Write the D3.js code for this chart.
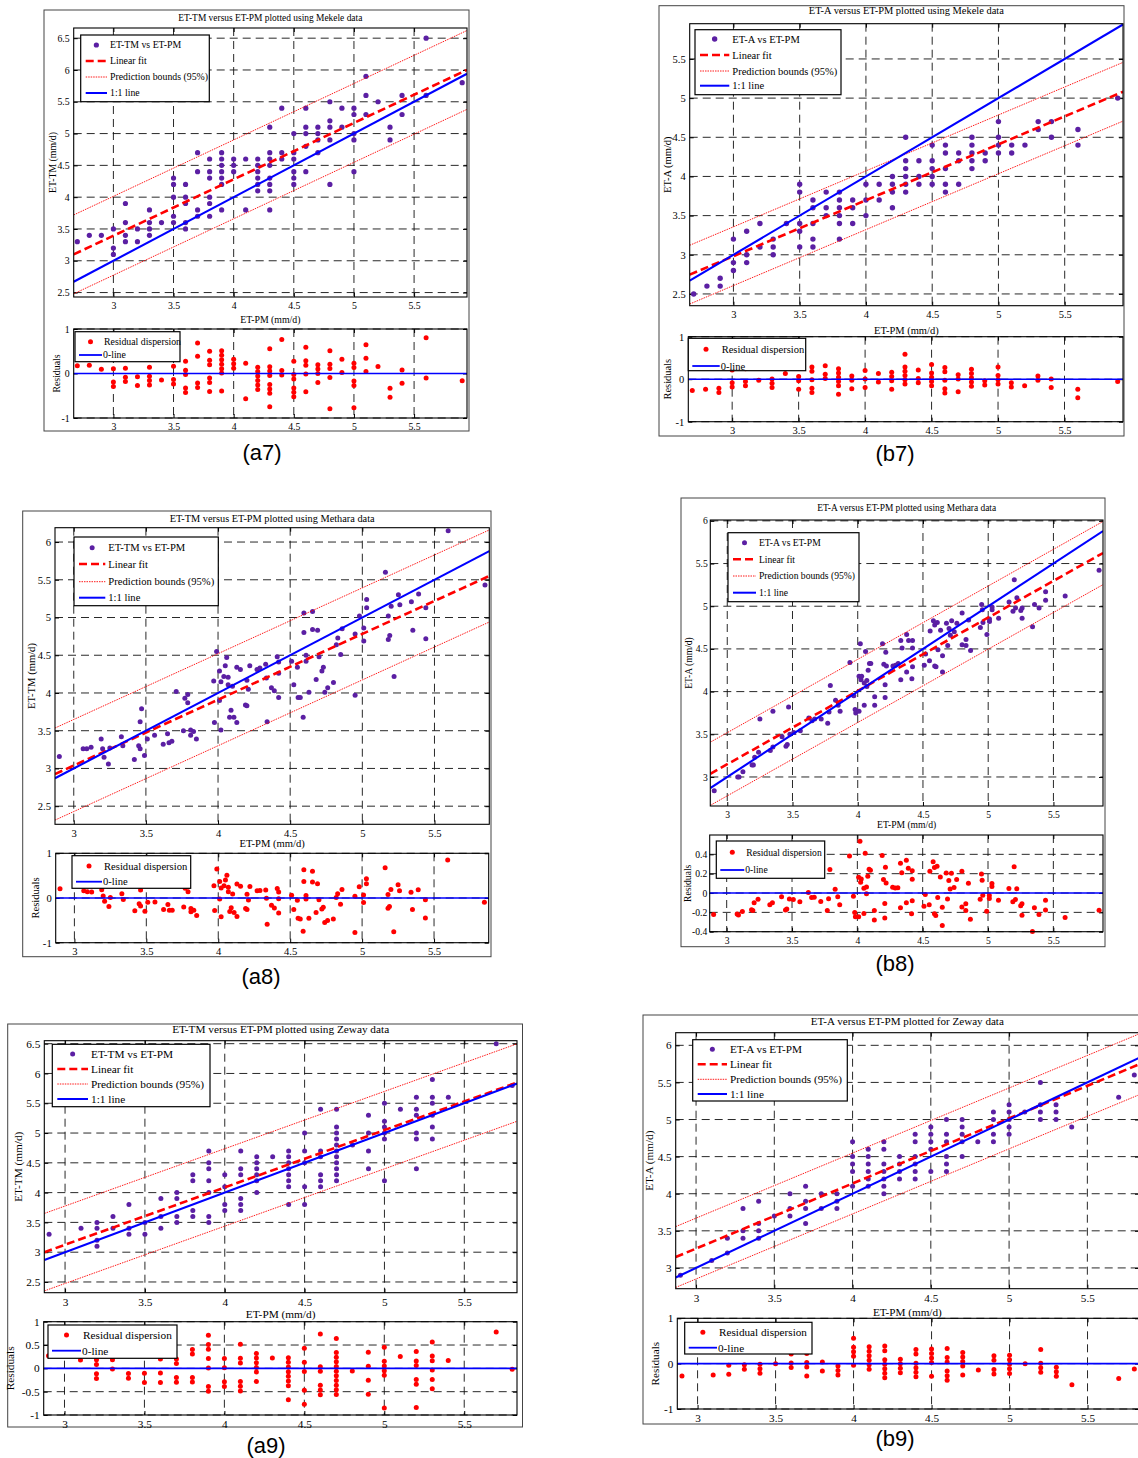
<!DOCTYPE html>
<html>
<head>
<meta charset="utf-8">
<script src="https://cdn.jsdelivr.net/npm/d3@7"></script>
<style>
body { margin: 0; background: #fff; }
svg text { font-family: "Liberation Serif", "Times New Roman", serif; fill: #000; }
svg text.plabel { font-family: "Liberation Sans", Arial, sans-serif; }
</style>
</head>
<body>
<svg id="fig" width="1138" height="1458"></svg>
<script>
var xTicks = [3, 3.5, 4, 4.5, 5, 5.5];

// Mekele, ET-TM (a7): ET-PM steps and the ET-TM readings found at each step
var a7PM = [2.7, 2.8, 2.9, 3.0, 3.1, 3.2, 3.3, 3.4, 3.5, 3.6, 3.7, 3.8, 3.9, 4.0, 4.1, 4.2, 4.3, 4.4, 4.5, 4.6, 4.7, 4.8, 4.9, 5.0, 5.1, 5.2, 5.3, 5.4, 5.6, 5.9];
var a7TM = [[3.3], [3.4], [3.4], [3.5, 3.2, 3.1], [3.9, 3.6, 3.4, 3.3], [3.5, 3.3], [3.8, 3.6, 3.5, 3.4], [3.6],
  [4.3, 4.2, 4.0, 3.7, 3.6], [4.2, 4.0, 3.9, 3.6, 3.5], [4.7, 4.4, 3.8, 3.7], [4.6, 4.4, 4.3, 4.0, 3.9, 3.7],
  [4.7, 4.6, 4.5, 4.4, 4.3, 4.2, 3.8], [4.6, 4.5, 4.4], [4.6, 3.8], [4.6, 4.5, 4.4, 4.3, 4.2, 4.1],
  [5.1, 4.7, 4.6, 4.5, 4.3, 4.2, 4.1, 3.8], [5.4, 4.7, 4.6], [5.0, 4.7, 4.6, 4.4, 4.3, 4.2], [5.4, 5.1, 5.0, 4.8, 4.4],
  [5.1, 5.0, 4.9, 4.7], [5.5, 5.2, 5.1, 4.9, 4.2], [5.4, 5.1], [5.4, 5.3, 5.0, 4.9, 4.4], [5.9, 5.6, 5.3], [5.5],
  [5.1, 4.9], [5.6, 5.3], [6.5, 5.6], [5.8]];
var a7Fit = [0.887, 0.732];   // slope, intercept
var a7Bound = 0.62;           // half width of the 95% prediction band

// Mekele, ET-A (b7)
var b7PM = [2.7, 2.8, 2.9, 3.0, 3.1, 3.2, 3.3, 3.4, 3.5, 3.6, 3.7, 3.8, 3.9, 4.0, 4.1, 4.2, 4.3, 4.4, 4.5, 4.6, 4.7, 4.8, 4.9, 5.0, 5.1, 5.2, 5.3, 5.4, 5.6, 5.9];
var b7A = [[2.5], [2.6], [2.7, 2.6], [3.2, 2.9, 2.8], [3.3, 3.0, 2.9], [3.4, 3.1], [3.2, 3.1, 3.0], [3.4],
  [3.9, 3.8, 3.4, 3.3, 3.1], [3.7, 3.6, 3.4, 3.2, 3.1], [3.8, 3.6, 3.5], [3.8, 3.7, 3.6, 3.5, 3.4, 3.2],
  [3.7, 3.6, 3.4], [3.9, 3.7, 3.5], [3.9, 3.7], [4.0, 3.9, 3.8, 3.6], [4.5, 4.2, 4.1, 4.0, 3.9, 3.8],
  [4.2, 4.0, 3.9], [4.4, 4.2, 4.1, 4.0, 3.9], [4.4, 4.3, 4.1, 3.9, 3.8], [4.3, 4.2, 3.9], [4.5, 4.4, 4.3, 4.2, 4.1],
  [4.3, 4.2], [4.7, 4.5, 4.4, 4.3], [4.4, 4.3], [4.4], [4.7, 4.6], [4.7, 4.5], [4.6, 4.4], [5.0]];
var b7Fit = [0.714, 0.840];
var b7Bound = 0.375;

// Methara, ET-TM (a8): [ET-PM, ET-TM]
var a8Pts = [[2.90, 3.16], [3.065, 3.26], [3.09, 3.26], [3.12, 3.28], [3.19, 3.39], [3.20, 3.26], [3.21, 3.15],
  [3.24, 3.06], [3.25, 3.27], [3.33, 3.42], [3.34, 3.30], [3.42, 3.12], [3.45, 3.30], [3.46, 3.26], [3.46, 3.62],
  [3.47, 3.79], [3.49, 3.17], [3.51, 3.39], [3.56, 3.44], [3.62, 3.32], [3.65, 3.46], [3.66, 3.34], [3.68, 3.36],
  [3.71, 4.02], [3.76, 3.50], [3.77, 3.93], [3.79, 3.98], [3.79, 3.87], [3.81, 3.51], [3.81, 3.44], [3.83, 3.49],
  [3.85, 3.39], [3.97, 4.16], [3.975, 3.61], [3.99, 4.55], [4.01, 3.90], [4.01, 4.29], [4.02, 3.51], [4.02, 4.15],
  [4.04, 4.22], [4.05, 4.36], [4.06, 4.47], [4.07, 4.21], [4.07, 4.11], [4.08, 3.68], [4.09, 3.77], [4.10, 4.09],
  [4.11, 3.68], [4.13, 3.61], [4.13, 4.34], [4.155, 4.31], [4.19, 3.84], [4.20, 3.83], [4.20, 4.17], [4.21, 4.05],
  [4.22, 4.36], [4.27, 4.31], [4.29, 4.33], [4.33, 4.38], [4.335, 4.20], [4.34, 3.62], [4.37, 4.07], [4.39, 4.03],
  [4.41, 4.48], [4.42, 3.94], [4.42, 4.41], [4.42, 4.26], [4.51, 4.42], [4.525, 4.11], [4.55, 4.34], [4.555, 3.94],
  [4.57, 3.94], [4.59, 3.68], [4.595, 5.06], [4.595, 4.80], [4.61, 4.50], [4.61, 4.42], [4.63, 4.01], [4.655, 5.08],
  [4.655, 4.84], [4.68, 4.18], [4.69, 4.83], [4.70, 4.48], [4.72, 4.29], [4.73, 4.34], [4.74, 4.01], [4.76, 4.07],
  [4.80, 4.14], [4.82, 4.64], [4.83, 4.73], [4.85, 4.51], [4.86, 4.85], [4.95, 3.97], [4.95, 4.78], [4.98, 5.02],
  [5.01, 4.69], [5.01, 4.86], [5.03, 5.24], [5.03, 5.13], [5.16, 5.60], [5.18, 5.02], [5.18, 4.71], [5.19, 4.76],
  [5.20, 5.15], [5.22, 4.22], [5.25, 5.30], [5.26, 5.17], [5.34, 5.21], [5.35, 4.83], [5.39, 5.31], [5.44, 5.13],
  [5.44, 4.72], [5.595, 6.15], [5.85, 5.43]];
var a8Fit = [0.872, 0.423];
var a8Bound = 0.61;

// Methara, ET-A (b8): [ET-PM, ET-A]
var b8Pts = [[2.90, 2.84], [3.08, 3.00], [3.09, 3.00], [3.12, 3.06], [3.19, 3.14], [3.20, 3.14], [3.21, 3.23],
  [3.24, 3.29], [3.25, 3.68], [3.33, 3.31], [3.35, 3.35], [3.35, 3.77], [3.42, 3.47], [3.45, 3.36], [3.46, 3.38],
  [3.47, 3.82], [3.48, 3.50], [3.51, 3.52], [3.56, 3.54], [3.625, 3.69], [3.65, 3.66], [3.67, 3.68], [3.72, 3.68],
  [3.77, 3.63], [3.78, 3.76], [3.79, 4.07], [3.83, 3.90], [3.85, 3.84], [3.865, 3.77], [3.94, 4.34], [3.97, 3.95],
  [3.98, 3.79], [3.985, 3.75], [4.01, 4.18], [4.01, 3.77], [4.02, 4.56], [4.025, 4.14], [4.03, 4.18], [4.05, 4.10],
  [4.06, 4.47], [4.07, 4.06], [4.07, 4.13], [4.08, 4.25], [4.09, 4.33], [4.10, 4.33], [4.05, 3.84], [4.13, 3.94],
  [4.13, 3.84], [4.19, 4.56], [4.20, 4.32], [4.21, 4.08], [4.21, 3.93], [4.215, 4.46], [4.22, 4.30], [4.27, 4.30],
  [4.29, 4.31], [4.31, 4.33], [4.33, 4.14], [4.33, 4.60], [4.34, 4.51], [4.375, 4.67], [4.375, 4.23], [4.39, 4.60],
  [4.415, 4.15], [4.42, 4.60], [4.42, 4.51], [4.42, 4.29], [4.51, 4.31], [4.52, 4.44], [4.55, 4.36], [4.555, 4.71],
  [4.58, 4.83], [4.59, 4.78], [4.59, 4.30], [4.60, 4.29], [4.61, 4.81], [4.615, 4.49], [4.635, 4.72], [4.65, 4.42],
  [4.65, 4.23], [4.68, 4.80], [4.69, 4.54], [4.70, 4.74], [4.71, 4.66], [4.72, 4.83], [4.74, 4.70], [4.76, 4.80],
  [4.80, 4.92], [4.80, 4.55], [4.83, 4.61], [4.83, 4.54], [4.865, 4.48], [4.85, 4.84], [4.94, 4.75], [4.95, 5.02],
  [4.955, 4.96], [4.96, 4.81], [4.99, 4.67], [5.01, 4.82], [5.01, 4.85], [5.03, 4.99], [5.03, 4.96], [5.08, 4.86],
  [5.16, 5.05], [5.19, 4.94], [5.20, 5.31], [5.21, 4.98], [5.22, 5.10], [5.25, 4.95], [5.26, 4.86], [5.26, 4.98],
  [5.34, 4.76], [5.355, 5.02], [5.39, 4.98], [5.44, 5.17], [5.44, 5.07], [5.59, 5.12], [5.85, 5.42]];
var b8Fit = [0.859, 0.572];
var b8Bound = 0.37;

// Zeway, ET-TM (a9)
var a9PM = [2.9, 3.1, 3.2, 3.3, 3.4, 3.5, 3.6, 3.7, 3.8, 3.9, 4.0, 4.1, 4.2, 4.3, 4.4, 4.5, 4.6, 4.7, 4.8, 4.9, 5.0, 5.1, 5.2, 5.3, 5.4, 5.7, 5.8];
var a9TM = [[3.3], [3.4], [3.5, 3.4, 3.2, 3.1], [3.6, 3.4], [3.8, 3.4, 3.3], [3.5, 3.3], [3.9, 3.6, 3.4],
  [4.0, 3.9, 3.6, 3.5], [4.3, 4.2, 3.7, 3.6], [4.7, 4.5, 4.4, 4.2, 4.0, 3.6, 3.5], [4.3, 4.1, 3.8, 3.7],
  [4.7, 4.4, 4.3, 3.9, 3.8, 3.7], [4.6, 4.5, 4.4, 4.3, 4.2, 4.0], [4.6], [4.7, 4.6, 4.5, 4.4, 4.3, 4.2, 4.1, 3.8],
  [5.0, 4.7, 4.5, 4.1, 3.8], [5.4, 4.7, 4.6, 4.3, 4.2, 4.1], [5.4, 5.1, 5.0, 4.9, 4.8, 4.7, 4.6, 4.5, 4.4, 4.3, 4.2],
  [4.8], [5.3, 5.0, 4.7, 4.4], [5.5, 5.2, 5.1, 5.0, 4.9, 4.2], [5.4], [5.6, 5.4, 5.3, 5.0, 4.9, 4.4],
  [5.9, 5.6, 5.5, 5.3, 5.1, 4.9], [5.6], [6.5], [5.8]];
var a9Fit = [0.962, 0.239];
var a9Bound = 0.65;

// Zeway, ET-A (b9)
var b9PM = [2.9, 3.1, 3.2, 3.3, 3.4, 3.5, 3.6, 3.7, 3.8, 3.9, 4.0, 4.1, 4.2, 4.3, 4.4, 4.5, 4.6, 4.7, 4.8, 4.9, 5.0, 5.1, 5.2, 5.3, 5.4, 5.7, 5.8];
var b9A = [[2.9], [3.1], [3.4, 3.2], [3.8, 3.5, 3.4], [3.9, 3.6, 3.5, 3.4], [3.7], [4.0, 3.8, 3.7],
  [4.1, 3.9, 3.8, 3.6], [4.0, 3.8], [4.0, 3.9, 3.8], [4.7, 4.5, 4.4, 4.3, 4.1], [4.6, 4.5, 4.4, 4.3, 4.2, 4.1],
  [4.7, 4.6, 4.4, 4.3, 4.2, 4.1, 4.0], [4.5, 4.4, 4.3, 4.2], [4.8, 4.7, 4.5, 4.4, 4.3, 4.2], [4.9, 4.8, 4.7, 4.6, 4.3],
  [5.0, 4.8, 4.7, 4.5, 4.4, 4.3], [5.0, 4.9, 4.8, 4.7, 4.5], [4.7], [5.1, 5.0, 4.8, 4.7], [5.2, 5.1, 5.0, 4.9, 4.8],
  [5.1], [5.5, 5.2, 5.1, 5.0], [5.2, 5.1, 5.0], [4.9], [5.3], [5.6]];
var b9Fit = [0.877, 0.630];
var b9Bound = 0.41;

function fromGroups(pm, groups) {
  var out = [];
  pm.forEach(function(x, i) {
    groups[i].forEach(function(y) { out.push([x, y]); });
  });
  return out;
}

var svg = d3.select('#fig');
svg.append('rect').attr('width', 1138).attr('height', 1458).attr('fill', '#fff');

var legA = 'ET-TM vs ET-PM', legB = 'ET-A vs ET-PM';

var panels = [
  { id: 'a7', pts: fromGroups(a7PM, a7TM), fit: a7Fit, bound: a7Bound, series: legA, ylab: 'ET-TM  (mm/d)',
    title: 'ET-TM versus ET-PM plotted using Mekele data', titleW: 184, titleY: 17, fs: 9.8, r: 2.6,
    frame: [44, 10, 469, 431], main: [73.7, 28, 467, 297], res: [73.7, 329, 467, 418],
    xDom: [2.67, 5.94], yDom: [2.43, 6.66], yTicks: [2.5, 3, 3.5, 4, 4.5, 5, 5.5, 6, 6.5],
    resDom: [-1, 1], resTicks: [-1, 0, 1], xlabY: 320, ylabX: 53, resLabX: 56.7, tag: [262, 452],
    leg: [80.7, 35, 209.3, 101.7], legRows: [45, 61, 77, 93], legText: 29.3,
    rleg: [75, 331.7, 180, 361.7], rlegRows: [341.7, 355], rlegText: 29 },
  { id: 'b7', pts: fromGroups(b7PM, b7A), fit: b7Fit, bound: b7Bound, series: legB, ylab: 'ET-A (mm/d)',
    title: 'ET-A versus ET-PM plotted using Mekele data', titleW: 195, titleY: 10.5, fs: 10.5, r: 2.7,
    frame: [659, 5.7, 1124, 436], main: [689.7, 23.7, 1123, 305.7], res: [688.3, 336.7, 1123, 421.7],
    xDom: [2.67, 5.94], yDom: [2.35, 5.95], yTicks: [2.5, 3, 3.5, 4, 4.5, 5, 5.5],
    resDom: [-1, 1], resTicks: [-1, 0, 1], xlabY: 330, ylabX: 667.7, resLabX: 667.7, tag: [895, 453],
    leg: [695, 29.7, 841, 94.7], legRows: [39, 55, 71, 85.7], legText: 37.3,
    rleg: [688.3, 338.3, 805.7, 370.7], rlegRows: [349.3, 366], rlegText: 33.4 },
  { id: 'a8', pts: a8Pts, fit: a8Fit, bound: a8Bound, series: legA, ylab: 'ET-TM  (mm/d)',
    title: 'ET-TM versus ET-PM plotted using Methara data', titleW: 205, titleY: 518, fs: 10.6, r: 2.5,
    frame: [22.7, 511, 491, 956.7], main: [55, 527.7, 489.3, 824.3], res: [55.7, 853.3, 488.7, 942.7],
    xDom: [2.87, 5.88], yDom: [2.26, 6.19], yTicks: [2.5, 3, 3.5, 4, 4.5, 5, 5.5, 6],
    resDom: [-1, 1], resTicks: [-1, 0, 1], xlabY: 843, ylabX: 31.7, resLabX: 35.3, tag: [261, 976],
    leg: [74, 537, 218.3, 605.7], legRows: [547.7, 564, 581.7, 597.7], legText: 34.3,
    rleg: [72, 855.7, 190.7, 888.3], rlegRows: [866, 881.7], rlegText: 32 },
  { id: 'b8', pts: b8Pts, fit: b8Fit, bound: b8Bound, series: legB, ylab: 'ET-A  (mm/d)',
    title: 'ET-A versus ET-PM plotted using Methara data', titleW: 179, titleY: 507, fs: 9.6, r: 2.5,
    frame: [681, 498, 1105, 946.7], main: [710.3, 520, 1103, 806], res: [709.7, 835, 1103, 931.7],
    xDom: [2.87, 5.88], yDom: [2.66, 6.01], yTicks: [3, 3.5, 4, 4.5, 5, 5.5, 6],
    resDom: [-0.4, 0.6], resTicks: [-0.4, -0.2, 0, 0.2, 0.4], xlabY: 825, ylabX: 689, resLabX: 688, tag: [895, 963],
    leg: [728, 532.7, 859, 601.7], legRows: [542.7, 559.3, 576, 592.7], legText: 31,
    rleg: [716.3, 841, 824.7, 878.3], rlegRows: [852.3, 870], rlegText: 30, tickPad: 2.5 },
  { id: 'a9', pts: fromGroups(a9PM, a9TM), fit: a9Fit, bound: a9Bound, series: legA, ylab: 'ET-TM (mm/d)',
    title: 'ET-TM versus ET-PM plotted using Zeway data', titleW: 217, titleY: 1029, fs: 11.3, r: 2.5,
    frame: [7.7, 1024, 522.5, 1427], main: [44.3, 1040.7, 517, 1292.7], res: [43.7, 1321.7, 517, 1415],
    xDom: [2.87, 5.83], yDom: [2.32, 6.55], yTicks: [2.5, 3, 3.5, 4, 4.5, 5, 5.5, 6, 6.5],
    resDom: [-1, 1], resTicks: [-1, -0.5, 0, 0.5, 1], xlabY: 1314, ylabX: 18.3, resLabX: 10.3, tag: [266, 1445],
    leg: [52.3, 1044.3, 210, 1106.7], legRows: [1054, 1069, 1084, 1099], legText: 38.7,
    rleg: [48, 1325, 177, 1358.3], rlegRows: [1335, 1350.7], rlegText: 35 },
  { id: 'b9', pts: fromGroups(b9PM, b9A), fit: b9Fit, bound: b9Bound, series: legB, ylab: 'ET-A (mm/d)',
    title: 'ET-A versus ET-PM plotted for Zeway data', titleW: 193, titleY: 1021, fs: 11.2, r: 2.5,
    frame: [643, 1015, 1160, 1424], main: [675.7, 1032.7, 1139, 1288.7], res: [677.3, 1318.3, 1139, 1409],
    xDom: [2.87, 5.83], yDom: [2.72, 6.17], yTicks: [3, 3.5, 4, 4.5, 5, 5.5, 6],
    resDom: [-1, 1], resTicks: [-1, 0, 1], xlabY: 1311.7, ylabX: 649.3, resLabX: 654.7, tag: [895, 1438],
    leg: [692.7, 1039.7, 847.3, 1101], legRows: [1049.3, 1064.3, 1079.3, 1094], legText: 37.3,
    rleg: [684.7, 1322.3, 812, 1354], rlegRows: [1332.3, 1347.7], rlegText: 34.3 }
];

var purple = '#5b1fa3', red = '#ff0000', blue = '#0000ff';

// grid, box, inward ticks and labels for one set of axes
function drawAxes(g, x, y, yTicks, fs, clipId, pad) {
  var x0 = x.range()[0], x1 = x.range()[1], y0 = y.range()[1], y1 = y.range()[0];

  g.append('clipPath').attr('id', clipId).append('rect')
    .attr('x', x0).attr('y', y0).attr('width', x1 - x0).attr('height', y1 - y0);

  var grid = g.append('g').attr('stroke', '#111').attr('stroke-width', 0.9).attr('stroke-dasharray', '8,5');
  grid.selectAll('.vg').data(xTicks).enter().append('line')
    .attr('x1', function(d) { return x(d); }).attr('x2', function(d) { return x(d); })
    .attr('y1', y0).attr('y2', y1);
  grid.selectAll('.hg').data(yTicks).enter().append('line')
    .attr('y1', function(d) { return y(d); }).attr('y2', function(d) { return y(d); })
    .attr('x1', x0).attr('x2', x1);

  var bottom = g.append('g').attr('transform', 'translate(0,' + y1 + ')')
    .call(d3.axisBottom(x).tickValues(xTicks).tickSizeInner(-4).tickSizeOuter(0).tickPadding(5).tickFormat(String));
  var top = g.append('g').attr('transform', 'translate(0,' + y0 + ')')
    .call(d3.axisTop(x).tickValues(xTicks).tickSizeInner(-4).tickSizeOuter(0).tickFormat(''));
  var left = g.append('g').attr('transform', 'translate(' + x0 + ',0)')
    .call(d3.axisLeft(y).tickValues(yTicks).tickSizeInner(-4).tickSizeOuter(0).tickPadding(pad || 4).tickFormat(String));
  var right = g.append('g').attr('transform', 'translate(' + x1 + ',0)')
    .call(d3.axisRight(y).tickValues(yTicks).tickSizeInner(-4).tickSizeOuter(0).tickFormat(''));
  [bottom, top, left, right].forEach(function(a) {
    a.select('.domain').remove();
    a.attr('font-size', fs);
    a.selectAll('line').attr('stroke', '#000');
  });

  return function() {
    g.append('rect').attr('x', x0).attr('y', y0).attr('width', x1 - x0).attr('height', y1 - y0)
      .attr('fill', 'none').attr('stroke', '#000').attr('stroke-width', 1.1);
  };
}

function legendBox(g, box) {
  g.append('rect').attr('x', box[0]).attr('y', box[1])
    .attr('width', box[2] - box[0]).attr('height', box[3] - box[1])
    .attr('fill', '#fff').attr('stroke', '#000').attr('stroke-width', 1.2);
}

function drawPanel(p) {
  var g = svg.append('g').attr('id', 'panel-' + p.id);

  g.append('rect').attr('x', p.frame[0]).attr('y', p.frame[1])
    .attr('width', p.frame[2] - p.frame[0]).attr('height', p.frame[3] - p.frame[1])
    .attr('fill', 'none').attr('stroke', '#444').attr('stroke-width', 1);

  // ---- main scatter ----
  var x = d3.scaleLinear().domain(p.xDom).range([p.main[0], p.main[2]]);
  var y = d3.scaleLinear().domain(p.yDom).range([p.main[3], p.main[1]]);
  var box = drawAxes(g, x, y, p.yTicks, p.fs, 'clip-' + p.id, p.tickPad);

  var fitY = function(v) { return p.fit[0] * v + p.fit[1]; };
  var ends = p.xDom;
  var line = d3.line().x(function(d) { return x(d[0]); }).y(function(d) { return y(d[1]); });

  g.append('g').selectAll('circle').data(p.pts).enter().append('circle')
    .attr('cx', function(d) { return x(d[0]); })
    .attr('cy', function(d) { return y(d[1]); })
    .attr('r', p.r).attr('fill', purple);

  var lines = g.append('g').attr('clip-path', 'url(#clip-' + p.id + ')').attr('fill', 'none');
  [p.bound, -p.bound].forEach(function(b) {
    lines.append('path')
      .attr('d', line(ends.map(function(v) { return [v, fitY(v) + b]; })))
      .attr('stroke', red).attr('stroke-width', 0.9).attr('stroke-dasharray', '1.5,1');
  });
  lines.append('path')
    .attr('d', line(ends.map(function(v) { return [v, fitY(v)]; })))
    .attr('stroke', red).attr('stroke-width', 2.6).attr('stroke-dasharray', '8,4');
  lines.append('path')
    .attr('d', line(ends.map(function(v) { return [v, v]; })))
    .attr('stroke', blue).attr('stroke-width', 2.1);
  box();

  // legend
  legendBox(g, p.leg);
  var lx0 = p.leg[0] + 5, lx1 = p.leg[0] + p.legText - 3, tx = p.leg[0] + p.legText;
  var rows = p.legRows;
  g.append('circle').attr('cx', (lx0 + lx1) / 2).attr('cy', rows[0]).attr('r', p.r).attr('fill', purple);
  g.append('line').attr('x1', lx0).attr('x2', lx1).attr('y1', rows[1]).attr('y2', rows[1])
    .attr('stroke', red).attr('stroke-width', 2.6).attr('stroke-dasharray', '8,4');
  g.append('line').attr('x1', lx0).attr('x2', lx1).attr('y1', rows[2]).attr('y2', rows[2])
    .attr('stroke', red).attr('stroke-width', 0.9).attr('stroke-dasharray', '1.5,1');
  g.append('line').attr('x1', lx0).attr('x2', lx1).attr('y1', rows[3]).attr('y2', rows[3])
    .attr('stroke', blue).attr('stroke-width', 2);
  [p.series, 'Linear fit', 'Prediction bounds (95%)', '1:1 line'].forEach(function(t, i) {
    g.append('text').attr('x', tx).attr('y', rows[i]).attr('dy', '0.35em')
      .attr('font-size', p.fs).text(t);
  });

  // titles and axis labels
  g.append('text').attr('x', (p.main[0] + p.main[2]) / 2).attr('y', p.titleY).attr('dy', '0.35em')
    .attr('text-anchor', 'middle').attr('font-size', 10.5)
    .attr('textLength', p.titleW).attr('lengthAdjust', 'spacingAndGlyphs').text(p.title);
  g.append('text').attr('x', (p.main[0] + p.main[2]) / 2).attr('y', p.xlabY).attr('dy', '0.35em')
    .attr('text-anchor', 'middle').attr('font-size', p.fs).text('ET-PM (mm/d)');
  g.append('text').attr('transform', 'translate(' + p.ylabX + ',' + (p.main[1] + p.main[3]) / 2 + ') rotate(-90)')
    .attr('dy', '0.35em').attr('text-anchor', 'middle').attr('font-size', p.fs).text(p.ylab);

  // ---- residuals ----
  var xr = d3.scaleLinear().domain(p.xDom).range([p.res[0], p.res[2]]);
  var yr = d3.scaleLinear().domain(p.resDom).range([p.res[3], p.res[1]]);
  var rbox = drawAxes(g, xr, yr, p.resTicks, p.fs, 'rclip-' + p.id, p.tickPad);

  g.append('g').selectAll('circle').data(p.pts).enter().append('circle')
    .attr('cx', function(d) { return xr(d[0]); })
    .attr('cy', function(d) { return yr(d[1] - fitY(d[0])); })
    .attr('r', 2.5).attr('fill', red);
  g.append('path').attr('clip-path', 'url(#rclip-' + p.id + ')')
    .attr('d', d3.line().x(function(d) { return xr(d); }).y(function() { return yr(0); })(ends))
    .attr('stroke', blue).attr('stroke-width', 1.6).attr('fill', 'none');
  rbox();

  legendBox(g, p.rleg);
  var rx0 = p.rleg[0] + 4, rx1 = p.rleg[0] + p.rlegText - 2, rtx = p.rleg[0] + p.rlegText;
  g.append('circle').attr('cx', (rx0 + rx1) / 2).attr('cy', p.rlegRows[0]).attr('r', 2.5).attr('fill', red);
  g.append('line').attr('x1', rx0).attr('x2', rx1).attr('y1', p.rlegRows[1]).attr('y2', p.rlegRows[1])
    .attr('stroke', blue).attr('stroke-width', 1.8);
  ['Residual dispersion', '0-line'].forEach(function(t, i) {
    g.append('text').attr('x', i === 1 ? rx1 + 1 : rtx).attr('y', p.rlegRows[i]).attr('dy', '0.35em')
      .attr('font-size', p.fs).text(t);
  });

  g.append('text').attr('transform', 'translate(' + p.resLabX + ',' + (p.res[1] + p.res[3]) / 2 + ') rotate(-90)')
    .attr('dy', '0.35em').attr('text-anchor', 'middle').attr('font-size', p.fs).text('Residuals');

  g.append('text').attr('class', 'plabel').attr('x', p.tag[0]).attr('y', p.tag[1]).attr('dy', '0.36em')
    .attr('text-anchor', 'middle').attr('font-size', 22).text('(' + p.id + ')');
}

panels.forEach(drawPanel);
</script>
</body>
</html>
